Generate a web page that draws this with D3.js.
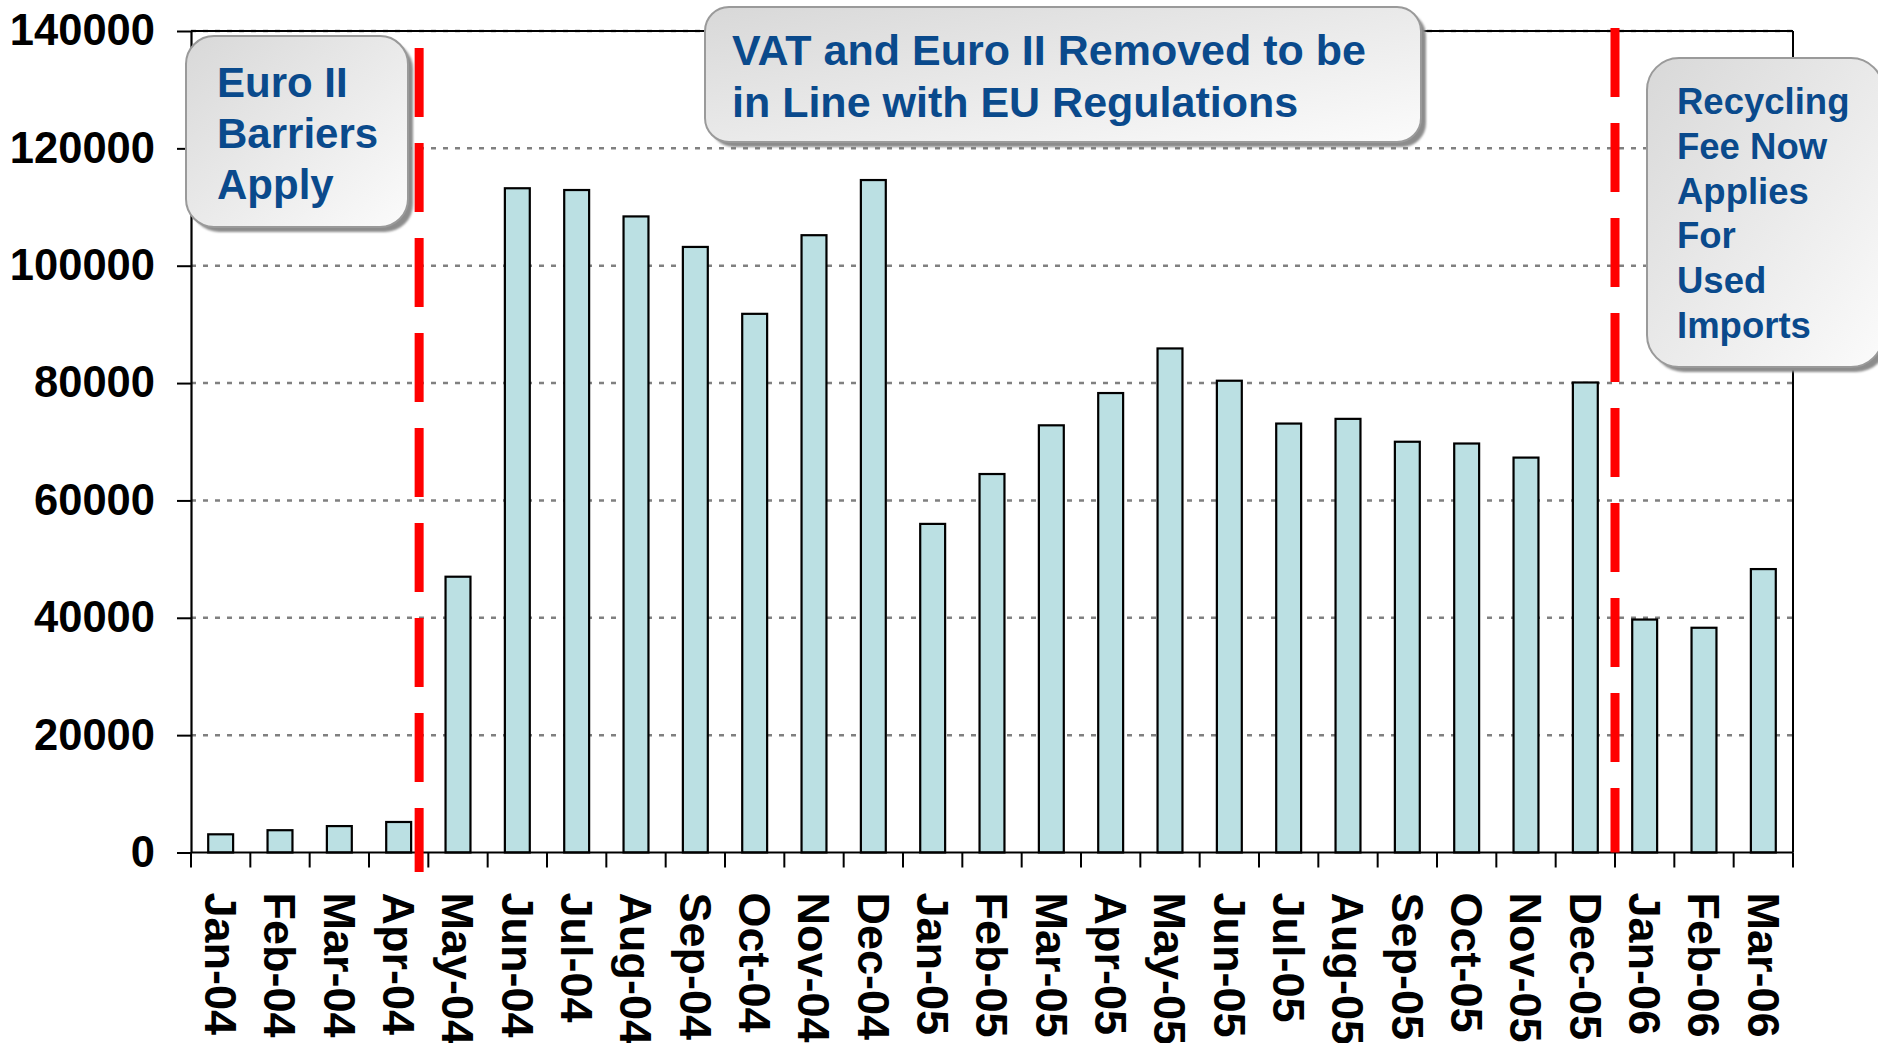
<!DOCTYPE html>
<html>
<head>
<meta charset="utf-8">
<script src="https://cdn.jsdelivr.net/npm/d3@7/dist/d3.min.js"></script>
<style>
  html, body { margin: 0; padding: 0; background: #ffffff; }
  svg { display: block; }
  text { font-family: "Liberation Sans", Arial, Helvetica, sans-serif; font-weight: bold; }
</style>
</head>
<body>
<svg id="chart" width="1878" height="1043"></svg>
<script>
// ---------------- DATA ----------------
const categories = [
  "Jan-04", "Feb-04", "Mar-04", "Apr-04", "May-04", "Jun-04", "Jul-04", "Aug-04", "Sep-04",
  "Oct-04", "Nov-04", "Dec-04", "Jan-05", "Feb-05", "Mar-05", "Apr-05", "May-05", "Jun-05",
  "Jul-05", "Aug-05", "Sep-05", "Oct-05", "Nov-05", "Dec-05", "Jan-06", "Feb-06", "Mar-06"
];
const importValues = [
  3100, 3800, 4500, 5200, 47000, 113200, 112900, 108400, 103200,
  91800, 105200, 114600, 56000, 64500, 72800, 78300, 85900, 80400,
  73100, 73900, 70000, 69700, 67300, 80100, 39700, 38300, 48300
];
const yTickValues = [0, 20000, 40000, 60000, 80000, 100000, 120000, 140000];
const yDomain = [0, 140000];

// policy event markers (category after which the change happens)
const eventCategories = ["Apr-04", "Dec-05"];

// annotation texts
const noteEuro = ["Euro II", "Barriers", "Apply"];
const noteVat = ["VAT and Euro II Removed to be", "in Line with EU Regulations"];
const noteRecycling = ["Recycling", "Fee Now", "Applies", "For", "Used", "Imports"];

// ---------------- LAYOUT ----------------
const W = 1878, H = 1043;
const margin = { left: 191, right: 85, top: 31, bottom: 191 };
const plotL = margin.left, plotR = W - margin.right;
const plotT = margin.top, plotB = H - margin.bottom + 0.5;

const svg = d3.select("#chart");

const x = d3.scaleBand()
  .domain(categories)
  .range([plotL, plotR])
  .paddingInner(0.58)
  .paddingOuter(0.29);
const step = x.step();
const bandOffset = (step - x.bandwidth()) / 2;

const y = d3.scaleLinear().domain(yDomain).range([plotB, plotT]);

// defs: gradient + shadow blur
const defs = svg.append("defs");
const grad = defs.append("linearGradient").attr("id", "boxGrad")
  .attr("x1", "0%").attr("y1", "0%").attr("x2", "100%").attr("y2", "100%");
grad.append("stop").attr("offset", "0%").attr("stop-color", "#d8d8d8");
grad.append("stop").attr("offset", "100%").attr("stop-color", "#fbfbfb");
const blur = defs.append("filter").attr("id", "shadowBlur")
  .attr("x", "-10%").attr("y", "-10%").attr("width", "120%").attr("height", "120%");
blur.append("feGaussianBlur").attr("stdDeviation", 1.2);

// ---------------- GRIDLINES ----------------
svg.append("g").attr("class", "grid")
  .selectAll("line")
  .data(yTickValues.filter(v => v > 0))
  .join("line")
  .attr("x1", plotL).attr("x2", plotR)
  .attr("y1", d => y(d)).attr("y2", d => y(d))
  .attr("stroke", "#808080")
  .attr("stroke-width", 2.5)
  .attr("stroke-dasharray", "5,7");

// ---------------- BARS ----------------
svg.append("g").attr("class", "bars")
  .selectAll("rect")
  .data(importValues)
  .join("rect")
  .attr("x", (d, i) => x(categories[i]))
  .attr("width", x.bandwidth())
  .attr("y", d => y(d))
  .attr("height", d => y(0) - y(d))
  .attr("fill", "#bbe0e3")
  .attr("stroke", "#000000")
  .attr("stroke-width", 2.2);

// ---------------- FRAME (top + right) ----------------
svg.append("line")
  .attr("x1", plotL).attr("x2", plotR).attr("y1", y(yDomain[1])).attr("y2", y(yDomain[1]))
  .attr("stroke", "#000").attr("stroke-width", 2);
svg.append("line")
  .attr("x1", plotR).attr("x2", plotR).attr("y1", y(yDomain[1])).attr("y2", y(0))
  .attr("stroke", "#000").attr("stroke-width", 2);

// ---------------- Y AXIS ----------------
const yAxis = svg.append("g")
  .attr("transform", `translate(${plotL},0)`)
  .call(d3.axisLeft(y).tickValues(yTickValues).tickFormat(d3.format("d"))
    .tickSize(14).tickSizeOuter(0).tickPadding(22));
yAxis.select(".domain").attr("stroke", "#000").attr("stroke-width", 2.2);
yAxis.selectAll(".tick line").attr("stroke", "#000").attr("stroke-width", 2);
yAxis.selectAll(".tick text")
  .attr("fill", "#000")
  .style("font-size", "43.5px")
  .style("font-family", "'Liberation Sans', Arial, sans-serif")
  .style("font-weight", "bold");

// ---------------- X AXIS ----------------
const xAxis = svg.append("g")
  .attr("transform", `translate(0,${y(0)})`)
  .call(d3.axisBottom(x).tickSize(0).tickSizeOuter(0).tickPadding(0));
xAxis.select(".domain").attr("stroke", "#000").attr("stroke-width", 2.2)
  .attr("d", `M${plotL},0H${plotR}`);
xAxis.selectAll(".tick text")
  .attr("x", 0).attr("y", 0)
  .attr("dy", "0.35em")
  .attr("text-anchor", "start")
  .attr("transform", "translate(0,40) rotate(90)")
  .attr("fill", "#000")
  .style("font-size", "45px")
  .style("font-family", "'Liberation Sans', Arial, sans-serif")
  .style("font-weight", "bold");
// boundary ticks between categories
const boundaries = categories.map(c => x(c) - bandOffset).concat([plotR]);
xAxis.append("g").selectAll("line")
  .data(boundaries)
  .join("line")
  .attr("x1", d => d).attr("x2", d => d)
  .attr("y1", 0).attr("y2", 15)
  .attr("stroke", "#000").attr("stroke-width", 2);

// ---------------- EVENT LINES ----------------
const eventX = [
  x(eventCategories[0]) + x.bandwidth() + step * 0.135,  // just after Apr-04 bar
  x(eventCategories[1]) - bandOffset + step             // boundary Dec-05 / Jan-06
];
const eventYTop = [48, 28];
const eventYBottom = [872, y(0)];
svg.append("g").attr("class", "events")
  .selectAll("line")
  .data(eventX)
  .join("line")
  .attr("x1", d => d).attr("x2", d => d)
  .attr("y1", (d, i) => eventYTop[i]).attr("y2", (d, i) => eventYBottom[i])
  .attr("stroke", "#ff0000")
  .attr("stroke-width", 9)
  .attr("stroke-dasharray", "69,26");

// ---------------- ANNOTATION BOXES ----------------
function noteBox(lines, bx, by, bw, bh, r, tx, ty0, lineGap, fontSize) {
  const g = svg.append("g");
  g.append("rect")
    .attr("x", bx + 5).attr("y", by + 5).attr("width", bw).attr("height", bh)
    .attr("rx", r).attr("ry", r)
    .attr("fill", "#8c8c8c").attr("filter", "url(#shadowBlur)");
  g.append("rect")
    .attr("x", bx).attr("y", by).attr("width", bw).attr("height", bh)
    .attr("rx", r).attr("ry", r)
    .attr("fill", "url(#boxGrad)")
    .attr("stroke", "#9a9a9a").attr("stroke-width", 2);
  g.selectAll("text")
    .data(lines)
    .join("text")
    .attr("x", tx)
    .attr("y", (d, i) => ty0 + i * lineGap)
    .attr("fill", "#0a4a8c")
    .style("font-size", fontSize + "px")
    .text(d => d);
}

noteBox(noteEuro, 186, 36, 222, 191, 28, 217, 97, 51, 42);
noteBox(noteVat, 705, 7, 716, 135, 24, 732, 65, 52, 43);
noteBox(noteRecycling, 1647, 58, 236, 309, 32, 1677, 114, 44.8, 36.5);
</script>
</body>
</html>
